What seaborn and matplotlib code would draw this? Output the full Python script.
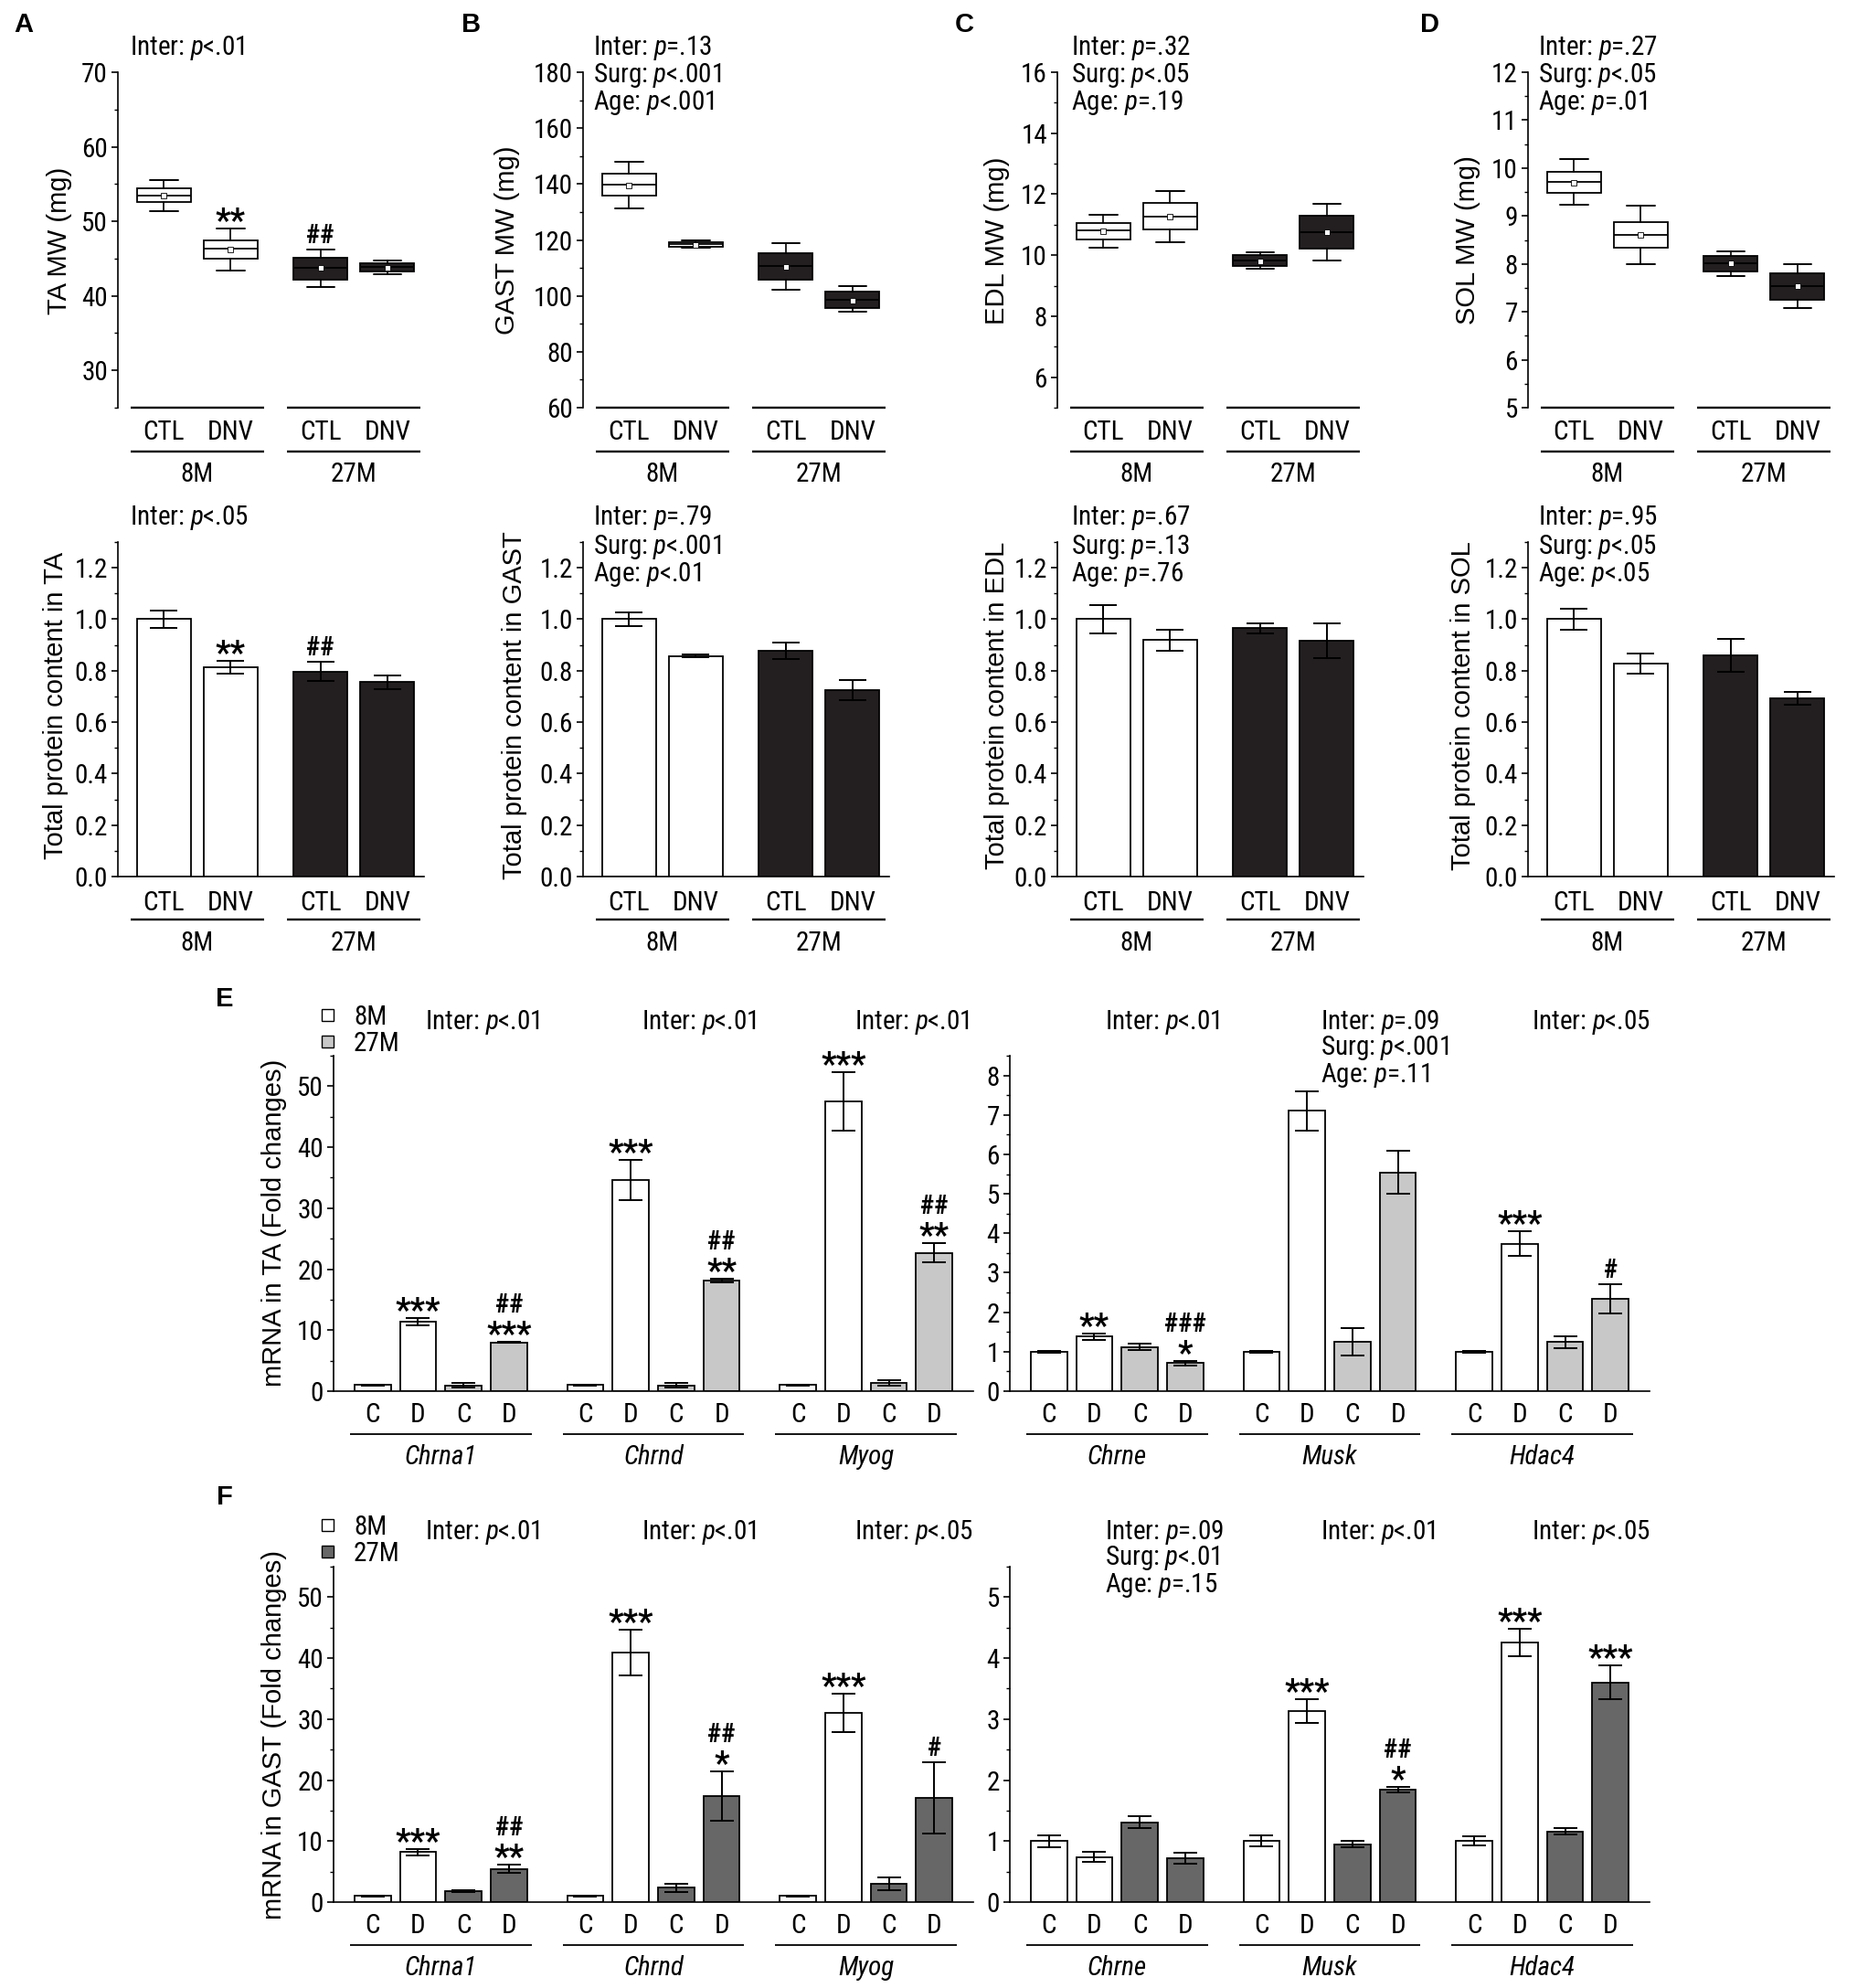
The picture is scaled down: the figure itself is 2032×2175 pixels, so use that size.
import numpy as np
import pandas as pd
import matplotlib
matplotlib.use("Agg")
import matplotlib.pyplot as plt
import seaborn as sns
from matplotlib import font_manager as fm
from matplotlib.transforms import ScaledTranslation
from matplotlib.patches import Rectangle
from matplotlib.ticker import MultipleLocator, FormatStrFormatter

# ---------------------------------------------------------------- data
AGE_OF_BAR = ["8M", "8M", "27M", "27M"]
SURG_LABELS = ["CTL", "DNV", "CTL", "DNV"]
CD_LABELS = ["C", "D", "C", "D"]
AGE_LABELS = ["8M", "27M"]

# muscle weights (box plots): whisker low, q1, median, q3, whisker high, mean
TA_MW_WLO = [51.35, 43.45, 41.2, 42.9]
TA_MW_Q1 = [52.53, 44.93, 42.2, 43.27]
TA_MW_MED = [53.45, 46.3, 43.75, 43.84]
TA_MW_Q3 = [54.37, 47.5, 45.1, 44.4]
TA_MW_WHI = [55.55, 49.08, 46.16, 44.72]
TA_MW_MEAN = [53.45, 46.2, 43.7, 43.8]

GAST_MW_WLO = [131.3, 117.1, 102.2, 94.3]
GAST_MW_Q1 = [135.8, 117.4, 105.7, 95.8]
GAST_MW_MED = [139.8, 118.4, 110.6, 98.7]
GAST_MW_Q3 = [143.6, 119.2, 115.3, 101.5]
GAST_MW_WHI = [148.1, 119.8, 118.9, 103.4]
GAST_MW_MEAN = [139.6, 118.3, 110.2, 98.4]

EDL_MW_WLO = [10.26, 10.44, 9.56, 9.83]
EDL_MW_Q1 = [10.51, 10.83, 9.65, 10.21]
EDL_MW_MED = [10.81, 11.26, 9.82, 10.76]
EDL_MW_Q3 = [11.06, 11.7, 10.0, 11.28]
EDL_MW_WHI = [11.33, 12.1, 10.11, 11.69]
EDL_MW_MEAN = [10.78, 11.26, 9.8, 10.74]

SOL_MW_WLO = [9.23, 7.99, 7.74, 7.07]
SOL_MW_Q1 = [9.48, 8.33, 7.85, 7.25]
SOL_MW_MED = [9.71, 8.61, 8.02, 7.53]
SOL_MW_Q3 = [9.92, 8.88, 8.16, 7.8]
SOL_MW_WHI = [10.19, 9.22, 8.27, 8.0]
SOL_MW_MEAN = [9.69, 8.6, 8.01, 7.53]

# total protein content (bars): mean, SEM
TA_PROT = [1.0, 0.813, 0.796, 0.755]
TA_PROT_ERR = [0.035, 0.024, 0.037, 0.027]
GAST_PROT = [1.0, 0.857, 0.877, 0.724]
GAST_PROT_ERR = [0.028, 0.006, 0.031, 0.039]
EDL_PROT = [1.0, 0.919, 0.965, 0.917]
EDL_PROT_ERR = [0.055, 0.04, 0.019, 0.067]
SOL_PROT = [1.0, 0.829, 0.860, 0.694]
SOL_PROT_ERR = [0.041, 0.039, 0.064, 0.025]

TA_STARS = ["", "**", "", ""]
TA_HASH = ["", "", "##", ""]
NO_MARK = ["", "", "", ""]

# mRNA (fold changes)
GENES_LEFT = ["Chrna1", "Chrnd", "Myog"]
GENES_RIGHT = ["Chrne", "Musk", "Hdac4"]

TA_CHRNA1 = [1.0, 11.39, 0.93, 7.99]
TA_CHRNA1_ERR = [0.12, 0.55, 0.35, 0.12]
TA_CHRND = [1.0, 34.6, 0.93, 18.2]
TA_CHRND_ERR = [0.12, 3.3, 0.4, 0.3]
TA_MYOG = [1.0, 47.5, 1.29, 22.7]
TA_MYOG_ERR = [0.1, 4.8, 0.45, 1.55]
TA_CHRNE = [1.0, 1.38, 1.12, 0.71]
TA_CHRNE_ERR = [0.03, 0.075, 0.08, 0.055]
TA_MUSK = [1.0, 7.1, 1.25, 5.54]
TA_MUSK_ERR = [0.03, 0.49, 0.355, 0.54]
TA_HDAC4 = [1.0, 3.74, 1.25, 2.34]
TA_HDAC4_ERR = [0.03, 0.305, 0.15, 0.365]

TA_MRNA_STARS = {"Chrna1": ["", "***", "", "***"], "Chrnd": ["", "***", "", "**"],
                 "Myog": ["", "***", "", "**"], "Chrne": ["", "**", "", "*"],
                 "Musk": NO_MARK, "Hdac4": ["", "***", "", ""]}
TA_MRNA_HASH = {"Chrna1": ["", "", "", "##"], "Chrnd": ["", "", "", "##"],
                "Myog": ["", "", "", "##"], "Chrne": ["", "", "", "###"],
                "Musk": NO_MARK, "Hdac4": ["", "", "", "#"]}

GAST_CHRNA1 = [1.0, 8.18, 1.82, 5.47]
GAST_CHRNA1_ERR = [0.08, 0.55, 0.2, 0.65]
GAST_CHRND = [1.0, 40.9, 2.34, 17.34]
GAST_CHRND_ERR = [0.12, 3.7, 0.65, 4.05]
GAST_MYOG = [1.0, 31.0, 3.0, 17.1]
GAST_MYOG_ERR = [0.1, 3.15, 1.07, 5.9]
GAST_CHRNE = [1.0, 0.74, 1.31, 0.72]
GAST_CHRNE_ERR = [0.1, 0.08, 0.1, 0.09]
GAST_MUSK = [1.0, 3.13, 0.95, 1.84]
GAST_MUSK_ERR = [0.09, 0.2, 0.055, 0.045]
GAST_HDAC4 = [1.0, 4.26, 1.16, 3.6]
GAST_HDAC4_ERR = [0.075, 0.225, 0.055, 0.28]

GAST_MRNA_STARS = {"Chrna1": ["", "***", "", "**"], "Chrnd": ["", "***", "", "*"],
                   "Myog": ["", "***", "", ""], "Chrne": NO_MARK,
                   "Musk": ["", "***", "", "*"], "Hdac4": ["", "***", "", "***"]}
GAST_MRNA_HASH = {"Chrna1": ["", "", "", "##"], "Chrnd": ["", "", "", "##"],
                  "Myog": ["", "", "", "#"], "Chrne": NO_MARK,
                  "Musk": ["", "", "", "##"], "Hdac4": NO_MARK}

# statistics texts
STATS_MW = [["Inter: $p$<.01"],
            ["Inter: $p$=.13", "Surg: $p$<.001", "Age: $p$<.001"],
            ["Inter: $p$=.32", "Surg: $p$<.05", "Age: $p$=.19"],
            ["Inter: $p$=.27", "Surg: $p$<.05", "Age: $p$=.01"]]
STATS_PROT = [["Inter: $p$<.05"],
              ["Inter: $p$=.79", "Surg: $p$<.001", "Age: $p$<.01"],
              ["Inter: $p$=.67", "Surg: $p$=.13", "Age: $p$=.76"],
              ["Inter: $p$=.95", "Surg: $p$<.05", "Age: $p$<.05"]]
STATS_E = [["Inter: $p$<.01"], ["Inter: $p$<.01"], ["Inter: $p$<.01"],
           ["Inter: $p$<.01"], ["Inter: $p$=.09", "Surg: $p$<.001", "Age: $p$=.11"],
           ["Inter: $p$<.05"]]
STATS_F = [["Inter: $p$<.01"], ["Inter: $p$<.01"], ["Inter: $p$<.05"],
           ["Inter: $p$=.09", "Surg: $p$<.01", "Age: $p$=.15"], ["Inter: $p$<.01"],
           ["Inter: $p$<.05"]]

# ---------------------------------------------------------------- style
W, H, DPI = 2033, 2175, 100
sns.set_theme(style="ticks")
_names = {f.name for f in fm.fontManager.ttflist}
NARROW = "Liberation Sans"
for cand in ["Liberation Sans Narrow", "Arial Narrow", "Nimbus Sans Narrow",
             "Roboto Condensed", "Noto Sans Condensed"]:
    if cand in _names:
        NARROW = cand
        break
IS_NARROW = NARROW != "Liberation Sans"
FS = 21 if IS_NARROW else 19          # annotation / label text
TFS = 21 if IS_NARROW else 20         # tick labels
STAR_FS = 26 if IS_NARROW else 24
HASH_FS = 21 if IS_NARROW else 18
plt.rcParams["font.family"] = [NARROW, "Liberation Sans", "DejaVu Sans"]
plt.rcParams["mathtext.fontset"] = "custom"
plt.rcParams["mathtext.rm"] = NARROW
plt.rcParams["mathtext.it"] = NARROW + ":italic"
plt.rcParams["mathtext.bf"] = NARROW + ":bold"
plt.rcParams["mathtext.sf"] = NARROW
plt.rcParams["text.color"] = "black"

BLACK = "#231f20"
GRAY_E = "#c8c8c8"
GRAY_F = "#676767"

fig = plt.figure(figsize=(W / DPI, H / DPI), dpi=DPI)


def add_ax(left, top, width, height):
    return fig.add_axes([left / W, 1 - (top + height) / H, width / W, height / H])


def ftext(x, y, s, **kw):
    kw.setdefault("fontsize", FS)
    fig.text(x / W, 1 - y / H, s, **kw)


def style_ax(ax, ylim, major, minor, fmt, bottom_spine, xlim):
    ax.set_xlim(*xlim)
    ax.set_ylim(*ylim)
    ax.yaxis.set_major_locator(MultipleLocator(major))
    ax.yaxis.set_minor_locator(MultipleLocator(minor))
    ax.yaxis.set_major_formatter(FormatStrFormatter(fmt))
    for s in ["top", "right"]:
        ax.spines[s].set_visible(False)
    ax.spines["bottom"].set_visible(bottom_spine)
    for s in ["left", "bottom"]:
        ax.spines[s].set_linewidth(1.2)
        ax.spines[s].set_color("black")
    ax.tick_params(axis="y", which="major", length=5, width=1.2, direction="out",
                   labelsize=TFS, pad=3, color="black", labelcolor="black")
    ax.tick_params(axis="y", which="minor", length=2.8, width=1.0, direction="out", color="black")
    ax.tick_params(axis="x", which="both", bottom=False, labelbottom=False)
    ax.set_xlabel("")
    ax.set_ylabel("")
    ax.patch.set_alpha(0)


def under_text(ax, x, dy, s, **kw):
    kw.setdefault("fontsize", FS)
    ax.annotate(s, xy=(x, 0), xycoords=ax.get_xaxis_transform(), xytext=(0, -dy),
                textcoords="offset pixels", ha="center", va="center_baseline",
                annotation_clip=False, **kw)


def under_line(ax, x0, x1, dy, lw):
    tr = ax.get_xaxis_transform() + ScaledTranslation(0, -dy / DPI, fig.dpi_scale_trans)
    ax.plot([x0, x1], [0, 0], transform=tr, color="black", lw=lw, clip_on=False,
            solid_capstyle="butt")


def marks(ax, xs, tops, stars, hashes):
    for x, t, s, h in zip(xs, tops, stars, hashes):
        if s:
            ax.annotate(s, xy=(x, t), xytext=(0, -3), textcoords="offset pixels",
                        ha="center", va="baseline", fontsize=STAR_FS, fontweight="bold",
                        annotation_clip=False)
        if h:
            ax.annotate(h, xy=(x, t), xytext=(0, 32 if s else 7), textcoords="offset pixels",
                        ha="center", va="baseline", fontsize=HASH_FS, fontweight="bold",
                        annotation_clip=False)


def draw_bars(ax, pos, vals, errs, ages, palette, width, capsize):
    df = pd.DataFrame({"pos": pos, "val": vals, "age": ages})
    sns.barplot(data=df, x="pos", y="val", hue="age", palette=palette, native_scale=True,
                width=width, errorbar=None, edgecolor="black", linewidth=1.3, saturation=1,
                dodge=False, legend=False, ax=ax, zorder=2)
    ax.errorbar(pos, vals, yerr=errs, fmt="none", ecolor="black", elinewidth=1.4,
                capsize=capsize, capthick=1.4, zorder=3)


POS4 = [0.0, 1.0, 2.35, 3.35]
XLIM4 = (-0.69, 3.9)
PAL_AD = {"8M": "white", "27M": BLACK}

LEFTS = [129, 638, 1157, 1672]
AX_W = 335
STAT_X = [142, 649, 1172, 1683]

# ---------------------------------------------------------------- A-D muscle weight boxes
MW_SETS = [
    (TA_MW_WLO, TA_MW_Q1, TA_MW_MED, TA_MW_Q3, TA_MW_WHI, TA_MW_MEAN, (25, 70), 10, 5, "TA MW (mg)"),
    (GAST_MW_WLO, GAST_MW_Q1, GAST_MW_MED, GAST_MW_Q3, GAST_MW_WHI, GAST_MW_MEAN, (60, 180), 20, 10, "GAST MW (mg)"),
    (EDL_MW_WLO, EDL_MW_Q1, EDL_MW_MED, EDL_MW_Q3, EDL_MW_WHI, EDL_MW_MEAN, (5, 16), 2, 1, "EDL MW (mg)"),
    (SOL_MW_WLO, SOL_MW_Q1, SOL_MW_MED, SOL_MW_Q3, SOL_MW_WHI, SOL_MW_MEAN, (5, 12), 1, 0.5, "SOL MW (mg)"),
]
MW_LABEL_X = [65, 555, 1091, 1606]

for i, (wlo, q1, med, q3, whi, mean, ylim, maj, mnr, ylab) in enumerate(MW_SETS):
    ax = add_ax(LEFTS[i], 79, AX_W, 367)
    stats = [dict(whislo=a, q1=b, med=c, q3=d, whishi=e, mean=m, fliers=[])
             for a, b, c, d, e, m in zip(wlo, q1, med, q3, whi, mean)]
    bp = ax.bxp(stats, positions=POS4, widths=0.81, capwidths=0.42, showmeans=True,
                patch_artist=True, showfliers=False, manage_ticks=False,
                boxprops=dict(edgecolor="black", linewidth=1.3),
                medianprops=dict(color="black", linewidth=1.3),
                whiskerprops=dict(color="black", linewidth=1.2),
                capprops=dict(color="black", linewidth=1.4),
                meanprops=dict(marker="s", markersize=4.5, markerfacecolor="white",
                               markeredgecolor="black", markeredgewidth=0.6))
    for patch, age in zip(bp["boxes"], AGE_OF_BAR):
        patch.set_facecolor(PAL_AD[age])
    style_ax(ax, ylim, maj, mnr, "%g", False, XLIM4)
    for x, s in zip(POS4, SURG_LABELS):
        under_text(ax, x, 24, s)
    for g, lab in enumerate(AGE_LABELS):
        x0, x1 = POS4[2 * g] - 0.5, POS4[2 * g + 1] + 0.5
        under_line(ax, x0, x1, 0, 1.7)
        under_line(ax, x0, x1, 48, 1.7)
        under_text(ax, (x0 + x1) / 2, 70, lab)
    if i == 0:
        marks(ax, POS4, whi, TA_STARS, TA_HASH)
    for k, s in enumerate(STATS_MW[i]):
        ftext(STAT_X[i], 48 + 30 * k, s, va="center_baseline", ha="left")
    ftext(MW_LABEL_X[i], 263, ylab, rotation=90, ha="center", va="center",
          fontfamily="Liberation Sans", fontsize=21)

# ---------------------------------------------------------------- A-D total protein bars
PROT_SETS = [(TA_PROT, TA_PROT_ERR, "Total protein content in TA"),
             (GAST_PROT, GAST_PROT_ERR, "Total protein content in GAST"),
             (EDL_PROT, EDL_PROT_ERR, "Total protein content in EDL"),
             (SOL_PROT, SOL_PROT_ERR, "Total protein content in SOL")]
PROT_LABEL_X = [61, 563, 1091, 1601]

for i, (vals, errs, ylab) in enumerate(PROT_SETS):
    ax = add_ax(LEFTS[i], 593, AX_W, 366)
    draw_bars(ax, POS4, vals, errs, AGE_OF_BAR, PAL_AD, 0.81, 11)
    style_ax(ax, (0, 1.3), 0.2, 0.1, "%.1f", True, XLIM4)
    for x, s in zip(POS4, SURG_LABELS):
        under_text(ax, x, 26, s)
    for g, lab in enumerate(AGE_LABELS):
        x0, x1 = POS4[2 * g] - 0.5, POS4[2 * g + 1] + 0.5
        under_line(ax, x0, x1, 47, 1.7)
        under_text(ax, (x0 + x1) / 2, 70, lab)
    if i == 0:
        tops = [v + e for v, e in zip(vals, errs)]
        marks(ax, POS4, tops, TA_STARS, TA_HASH)
    for k, s in enumerate(STATS_PROT[i]):
        ftext(STAT_X[i], 563 + 31 * k, s, va="center_baseline", ha="left")
    ftext(PROT_LABEL_X[i], 772, ylab, rotation=90, ha="center", va="center",
          fontfamily="Liberation Sans", fontsize=21)

# ---------------------------------------------------------------- E / F mRNA bars
GSTEP = 4.68
XLIM_M = (-0.86, 2 * GSTEP + 3 + 0.86)
MRNA = {
    "E": dict(top=1155, gray=GRAY_E, ylab="mRNA in TA (Fold changes)", stats=STATS_E,
              stars=TA_MRNA_STARS, hashes=TA_MRNA_HASH, stat_y=1114, leg_y=1110, lab_y=1338,
              left=[TA_CHRNA1, TA_CHRND, TA_MYOG],
              left_err=[TA_CHRNA1_ERR, TA_CHRND_ERR, TA_MYOG_ERR],
              right=[TA_CHRNE, TA_MUSK, TA_HDAC4],
              right_err=[TA_CHRNE_ERR, TA_MUSK_ERR, TA_HDAC4_ERR],
              rylim=(0, 8.5)),
    "F": dict(top=1714, gray=GRAY_F, ylab="mRNA in GAST (Fold changes)", stats=STATS_F,
              stars=GAST_MRNA_STARS, hashes=GAST_MRNA_HASH, stat_y=1672, leg_y=1668, lab_y=1898,
              left=[GAST_CHRNA1, GAST_CHRND, GAST_MYOG],
              left_err=[GAST_CHRNA1_ERR, GAST_CHRND_ERR, GAST_MYOG_ERR],
              right=[GAST_CHRNE, GAST_MUSK, GAST_HDAC4],
              right_err=[GAST_CHRNE_ERR, GAST_MUSK_ERR, GAST_HDAC4_ERR],
              rylim=(0, 5.5)),
}
STAT_XS_M = [465, 702, 935, 1209, 1445, 1676]

for key, cfg in MRNA.items():
    pal = {"8M": "white", "27M": cfg["gray"]}
    for side in ["left", "right"]:
        genes = GENES_LEFT if side == "left" else GENES_RIGHT
        ax = add_ax(365 if side == "left" else 1105, cfg["top"], 700, 367)
        pos, vals, errs, ages = [], [], [], []
        for g, (v, e) in enumerate(zip(cfg[side], cfg[side + "_err"])):
            pos += [g * GSTEP + j for j in range(4)]
            vals += list(v)
            errs += list(e)
            ages += AGE_OF_BAR
        draw_bars(ax, pos, vals, errs, ages, pal, 0.8, 9.5)
        if side == "left":
            style_ax(ax, (0, 55), 10, 5, "%g", True, XLIM_M)
        else:
            style_ax(ax, cfg["rylim"], 1, 0.5, "%g", True, XLIM_M)
        for g, gene in enumerate(genes):
            gp = [g * GSTEP + j for j in range(4)]
            for x, s in zip(gp, CD_LABELS):
                under_text(ax, x, 23, s)
            under_line(ax, gp[0] - 0.5, gp[-1] + 0.5, 47, 1.3)
            under_text(ax, (gp[0] + gp[-1]) / 2, 69, gene, fontstyle="italic")
            v = cfg[side][g]
            e = cfg[side + "_err"][g]
            tops = [a + b for a, b in zip(v, e)]
            marks(ax, gp, tops, cfg["stars"][gene], cfg["hashes"][gene])
    for gi in range(6):
        for k, s in enumerate(cfg["stats"][gi]):
            ftext(STAT_XS_M[gi], cfg["stat_y"] + 29 * k, s, va="center_baseline", ha="left")
    # legend
    for k, (lab, col) in enumerate(zip(AGE_LABELS, ["white", cfg["gray"]])):
        yc = cfg["leg_y"] + 29 * k
        fig.add_artist(Rectangle(((359 - 6.5) / W, 1 - (yc + 6.5) / H), 13 / W, 13 / H,
                                 transform=fig.transFigure, facecolor=col,
                                 edgecolor="black", linewidth=1.0))
        ftext(387, yc, lab, va="center_baseline", ha="left")
    ftext(300, cfg["lab_y"], cfg["ylab"], rotation=90, ha="center", va="center",
          fontfamily="Liberation Sans", fontsize=21)

# ---------------------------------------------------------------- panel letters
for lab, x, y in [("A", 26, 27), ("B", 516, 27), ("C", 1055, 27), ("D", 1565, 27),
                  ("E", 246, 1093), ("F", 246, 1638)]:
    ftext(x, y, lab, ha="center", va="center", fontfamily="Liberation Sans",
          fontweight="bold", fontsize=21)

fig.savefig("out.png", dpi=DPI)
